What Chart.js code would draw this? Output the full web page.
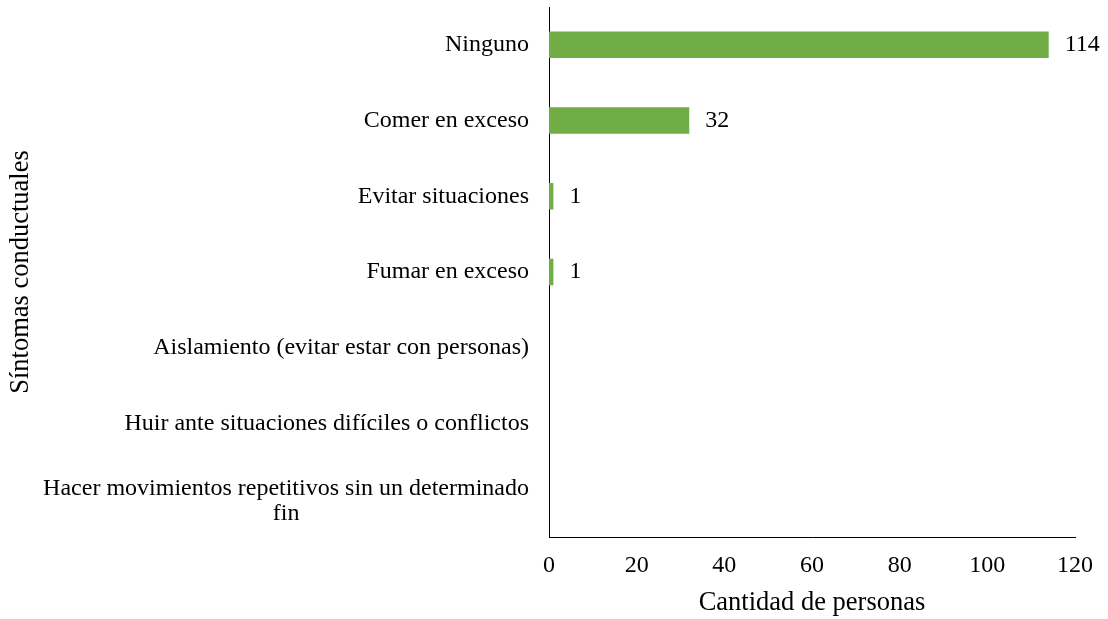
<!DOCTYPE html>
<html>
<head>
<meta charset="utf-8">
<script src="https://cdn.jsdelivr.net/npm/chart.js@4"></script>
<style>
  html, body { margin: 0; padding: 0; background: #fff; }
  #wrap { width: 1108px; height: 619px; }
</style>
</head>
<body>
<div id="wrap"><canvas id="myChart" width="1108" height="619"></canvas></div>
<script>
const labels = [
    'Ninguno',
    'Comer en exceso',
    'Evitar situaciones',
    'Fumar en exceso',
    'Aislamiento (evitar estar con personas)',
    'Huir ante situaciones difíciles o conflictos',
    ['Hacer movimientos repetitivos sin un determinado', 'fin'],
];
const values = [114, 32, 1, 1, 0, 0, 0];
const xTicks = [0, 20, 40, 60, 80, 100, 120];

const FONT = 'Liberation Serif, "Times New Roman", serif';

// y labels drawn by hand so the wrapped one is centred under its first line
const yLabelPlugin = {
    id: 'yLabels',
    afterDraw(chart) {
        const ctx = chart.ctx;
        const y = chart.scales.y;
        const right = chart.chartArea.left - 20;
        ctx.save();
        ctx.font = '24px ' + FONT;
        ctx.fillStyle = '#000';
        ctx.textBaseline = 'middle';
        labels.forEach((lab, i) => {
            const cy = y.getPixelForValue(i);
            if (Array.isArray(lab)) {
                const w = Math.max(...lab.map(l => ctx.measureText(l).width));
                const lh = 25;
                ctx.textAlign = 'center';
                lab.forEach((l, k) => {
                    ctx.fillText(l, right - w / 2, cy + 2 + (k - (lab.length - 1) / 2) * lh);
                });
            } else {
                ctx.textAlign = 'right';
                ctx.fillText(lab, right, cy);
            }
        });
        ctx.restore();
    }
};

const valueLabelPlugin = {
    id: 'valueLabels',
    afterDatasetsDraw(chart) {
        const ctx = chart.ctx;
        const meta = chart.getDatasetMeta(0);
        ctx.save();
        ctx.font = '24px ' + FONT;
        ctx.fillStyle = '#000';
        ctx.textAlign = 'left';
        ctx.textBaseline = 'middle';
        meta.data.forEach((bar, i) => {
            if (!values[i]) return;
            ctx.fillText(String(values[i]), bar.x + 16, bar.y);
        });
        ctx.restore();
    }
};

const data = {
    labels: labels,
    datasets: [{
        data: values,
        backgroundColor: '#70AD47',
        borderWidth: 0,
        barPercentage: 1,
        categoryPercentage: 0.35,
    }]
};

const options = {
    indexAxis: 'y',
    responsive: false,
    animation: false,
    layout: {
        padding: { top: 7, right: 33, bottom: 0, left: 0 }
    },
    scales: {
        x: {
            min: 0,
            max: 120,
            afterBuildTicks(scale) {
                scale.ticks = xTicks.map(v => ({ value: v }));
            },
            afterFit(scale) {
                scale.height = 82;
            },
            grid: { display: false, drawTicks: false },
            border: { display: true, color: '#000', width: 1 },
            ticks: {
                padding: 14,
                color: '#000',
                font: { family: FONT, size: 24 },
            },
            title: {
                display: true,
                text: 'Cantidad de personas',
                color: '#000',
                font: { family: FONT, size: 26.5 },
                padding: { top: 8, bottom: 0 },
            },
        },
        y: {
            grid: { display: false, drawTicks: false },
            border: { display: true, color: '#000', width: 1 },
            ticks: { display: false },
            title: {
                display: true,
                text: 'Síntomas conductuales',
                color: '#000',
                font: { family: FONT, size: 26.5 },
                padding: { top: 5, bottom: 0 },
            },
            afterFit(scale) {
                scale.width = 549;
            },
        },
    },
    plugins: {
        legend: { display: false },
        tooltip: { enabled: false },
    }
};

const config = {
    type: 'bar',
    data: data,
    options,
    plugins: [yLabelPlugin, valueLabelPlugin]
};

const myChart = new Chart(
    document.getElementById('myChart'),
    config
);
</script>
</body>
</html>
